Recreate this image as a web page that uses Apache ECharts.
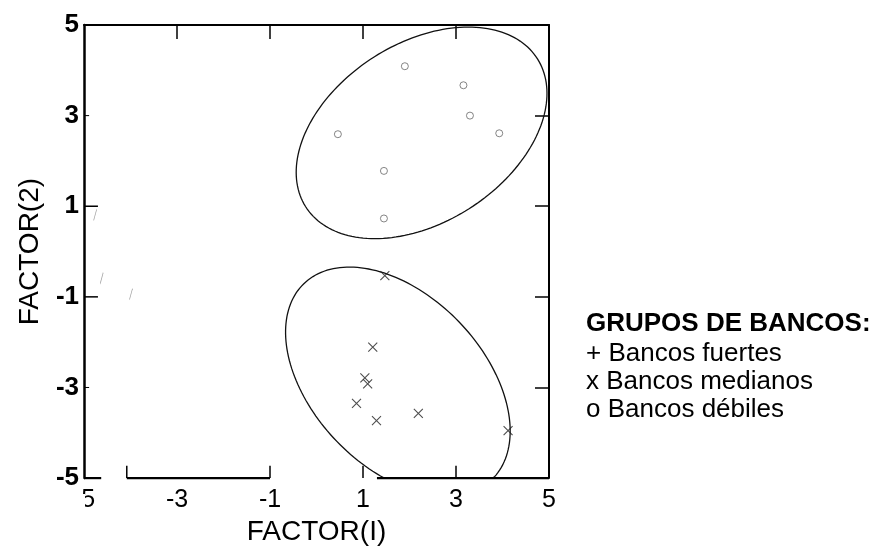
<!DOCTYPE html>
<html><head><meta charset="utf-8">
<script src="https://cdn.jsdelivr.net/npm/echarts@6/dist/echarts.min.js"></script>
<style>html,body{margin:0;padding:0;background:#fff}#c{width:876px;height:551px}</style>
</head><body><div id="c"></div>
<script>
// ---- data ----
const fuertes = [[-4.76, 0.81], [-4.62, -0.59], [-3.99, -0.94]];
const medianos = [[1.47, -0.53], [1.21, -2.11], [1.04, -2.79], [1.10, -2.92], [0.86, -3.35], [1.29, -3.73], [2.19, -3.57], [4.12, -3.95]];
const debiles = [[1.90, 4.09], [3.16, 3.67], [3.30, 3.00], [0.46, 2.59], [3.93, 2.61], [1.45, 1.78], [1.45, 0.73]];
// ellipse parameters: [centerX, centerY, semiMajor, semiMinor, angleDeg]
const ellipses = [[2.26, 2.62, 2.98, 1.96, 34.4], [1.75, -2.87, 2.96, 1.86, -48]];
// broken bottom axis line (x ranges at y = -5) and its ticks
const bottomAxisSegments = [[-5, -4.63], [-4.08, -1], [1.3, 5]];
const bottomTicks = [-4.08, -1, 1, 3];
const innerTicks = [-3, -1, 1, 3];
const leftLongTicks = [1, -1];
const leftShortTicks = [3, -3];
const legendTitle = 'GRUPOS DE BANCOS:';
const legendItems = ['+ Bancos fuertes', 'x Bancos medianos', 'o Bancos débiles'];
const xName = 'FACTOR(I)';
const yName = 'FACTOR(2)';

const FONT = "'Liberation Sans', Arial, sans-serif";
const MIN = -5, MAX = 5;
const chart = echarts.init(document.getElementById('c'));

const axisBase = {type: 'value', min: MIN, max: MAX, interval: 2, splitLine: {show: false}};
const black = (w) => ({color: '#000', width: w, type: 'solid'});

// decorative axis pieces in data units: [x1, y1, x2, y2, lineWidth]
const longTickX = 0.30, shortTickX = 0.11, bottomTickY = 0.27;
const decoSegments = []
  .concat(bottomAxisSegments.map(s => [s[0], MIN, s[1], MIN, 2.2]))
  .concat(bottomTicks.map(x => [x, MIN, x, MIN + bottomTickY, 1.5]))
  .concat(leftLongTicks.map(y => [MIN, y, MIN + longTickX, y, 1.5]))
  .concat(leftShortTicks.map(y => [MIN, y, MIN + shortTickX, y, 1]));

const decoSeries = decoSegments.map(s => ({
  type: 'line', data: [[s[0], s[1]], [s[2], s[3]]], symbol: 'none', clip: false,
  lineStyle: {color: '#000', width: s[4]}, emphasis: {disabled: true}, silent: true,
  zlevel: 1, z: 10
}));

const option = {
  animation: false,
  backgroundColor: '#fff',
  grid: {left: 84, right: 327, top: 25, bottom: 70, containLabel: false},
  xAxis: [
    Object.assign({}, axisBase, {
      position: 'bottom',
      axisLine: {show: false, onZero: false},
      axisTick: {show: false},
      axisLabel: {fontSize: 25, color: '#000', margin: 10, fontFamily: FONT},
      name: xName, nameLocation: 'middle', nameGap: 30,
      nameTextStyle: {fontSize: 28, color: '#000', fontFamily: FONT}
    }),
    Object.assign({}, axisBase, {
      position: 'top',
      axisLine: {show: true, onZero: false, lineStyle: black(2)},
      axisTick: {show: true, inside: true, length: 14, customValues: innerTicks, lineStyle: black(1.5)},
      axisLabel: {show: false}
    })
  ],
  yAxis: [
    Object.assign({}, axisBase, {
      position: 'left',
      axisLine: {show: true, onZero: false, lineStyle: black(2.5)},
      axisTick: {show: false},
      axisLabel: {fontSize: 26, fontWeight: 'bold', color: '#000', margin: 5, fontFamily: FONT},
      name: yName, nameLocation: 'middle', nameGap: 40,
      nameTextStyle: {fontSize: 28, color: '#000', fontFamily: FONT}
    }),
    Object.assign({}, axisBase, {
      position: 'right',
      axisLine: {show: true, onZero: false, lineStyle: black(2)},
      axisTick: {show: true, inside: true, length: 14, customValues: innerTicks, lineStyle: black(1.5)},
      axisLabel: {show: false}
    })
  ],
  series: decoSeries.concat([
    {
      type: 'custom', name: 'ellipses', clip: false, silent: true, zlevel: 1, z: 5,
      data: ellipses,
      encode: {x: 0, y: 1},
      renderItem: function (params, api) {
        const cx = api.value(0), cy = api.value(1), a = api.value(2), b = api.value(3);
        const t = api.value(4) * Math.PI / 180;
        const pts = [];
        for (let i = 0; i < 180; i++) {
          const p = i / 180 * Math.PI * 2;
          const u = a * Math.cos(p), v = b * Math.sin(p);
          const x = cx + u * Math.cos(t) - v * Math.sin(t);
          const y = cy + u * Math.sin(t) + v * Math.cos(t);
          pts.push(api.coord([x, Math.max(MIN, y)]));
        }
        return {type: 'polygon', shape: {points: pts}, style: {fill: 'none', stroke: '#111', lineWidth: 1.3}};
      }
    },
    {
      type: 'scatter', name: 'Bancos débiles', data: debiles, symbol: 'circle', symbolSize: 7,
      itemStyle: {color: '#fff', borderColor: '#666', borderWidth: 1}, silent: true, zlevel: 1, z: 6
    },
    {
      type: 'scatter', name: 'Bancos medianos', data: medianos,
      symbol: 'path://M0,0L10,10M10,0L0,10', symbolSize: 9,
      itemStyle: {color: 'none', borderColor: '#222', borderWidth: 1.1}, silent: true, zlevel: 1, z: 6
    },
    {
      type: 'scatter', name: 'Bancos fuertes', data: fuertes,
      symbol: 'path://M3,0L0,10', symbolSize: [3, 11],
      itemStyle: {color: 'none', borderColor: '#888', borderWidth: 1}, silent: true, zlevel: 1, z: 6
    }
  ]),
  graphic: [
    {type: 'rect', z: 100, shape: {x: 58, y: 494, width: 27, height: 24}, style: {fill: '#fff'}},
    {type: 'text', z: 100, x: 586, y: 324, style: {text: legendTitle, font: "bold 26px " + FONT, fill: '#000', verticalAlign: 'middle'}},
    {type: 'text', z: 100, x: 586, y: 354, style: {text: legendItems[0], font: "26px " + FONT, fill: '#000', verticalAlign: 'middle'}},
    {type: 'text', z: 100, x: 586, y: 382, style: {text: legendItems[1], font: "26px " + FONT, fill: '#000', verticalAlign: 'middle'}},
    {type: 'text', z: 100, x: 586, y: 410, style: {text: legendItems[2], font: "26px " + FONT, fill: '#000', verticalAlign: 'middle'}}
  ]
};
chart.setOption(option);
</script></body></html>
